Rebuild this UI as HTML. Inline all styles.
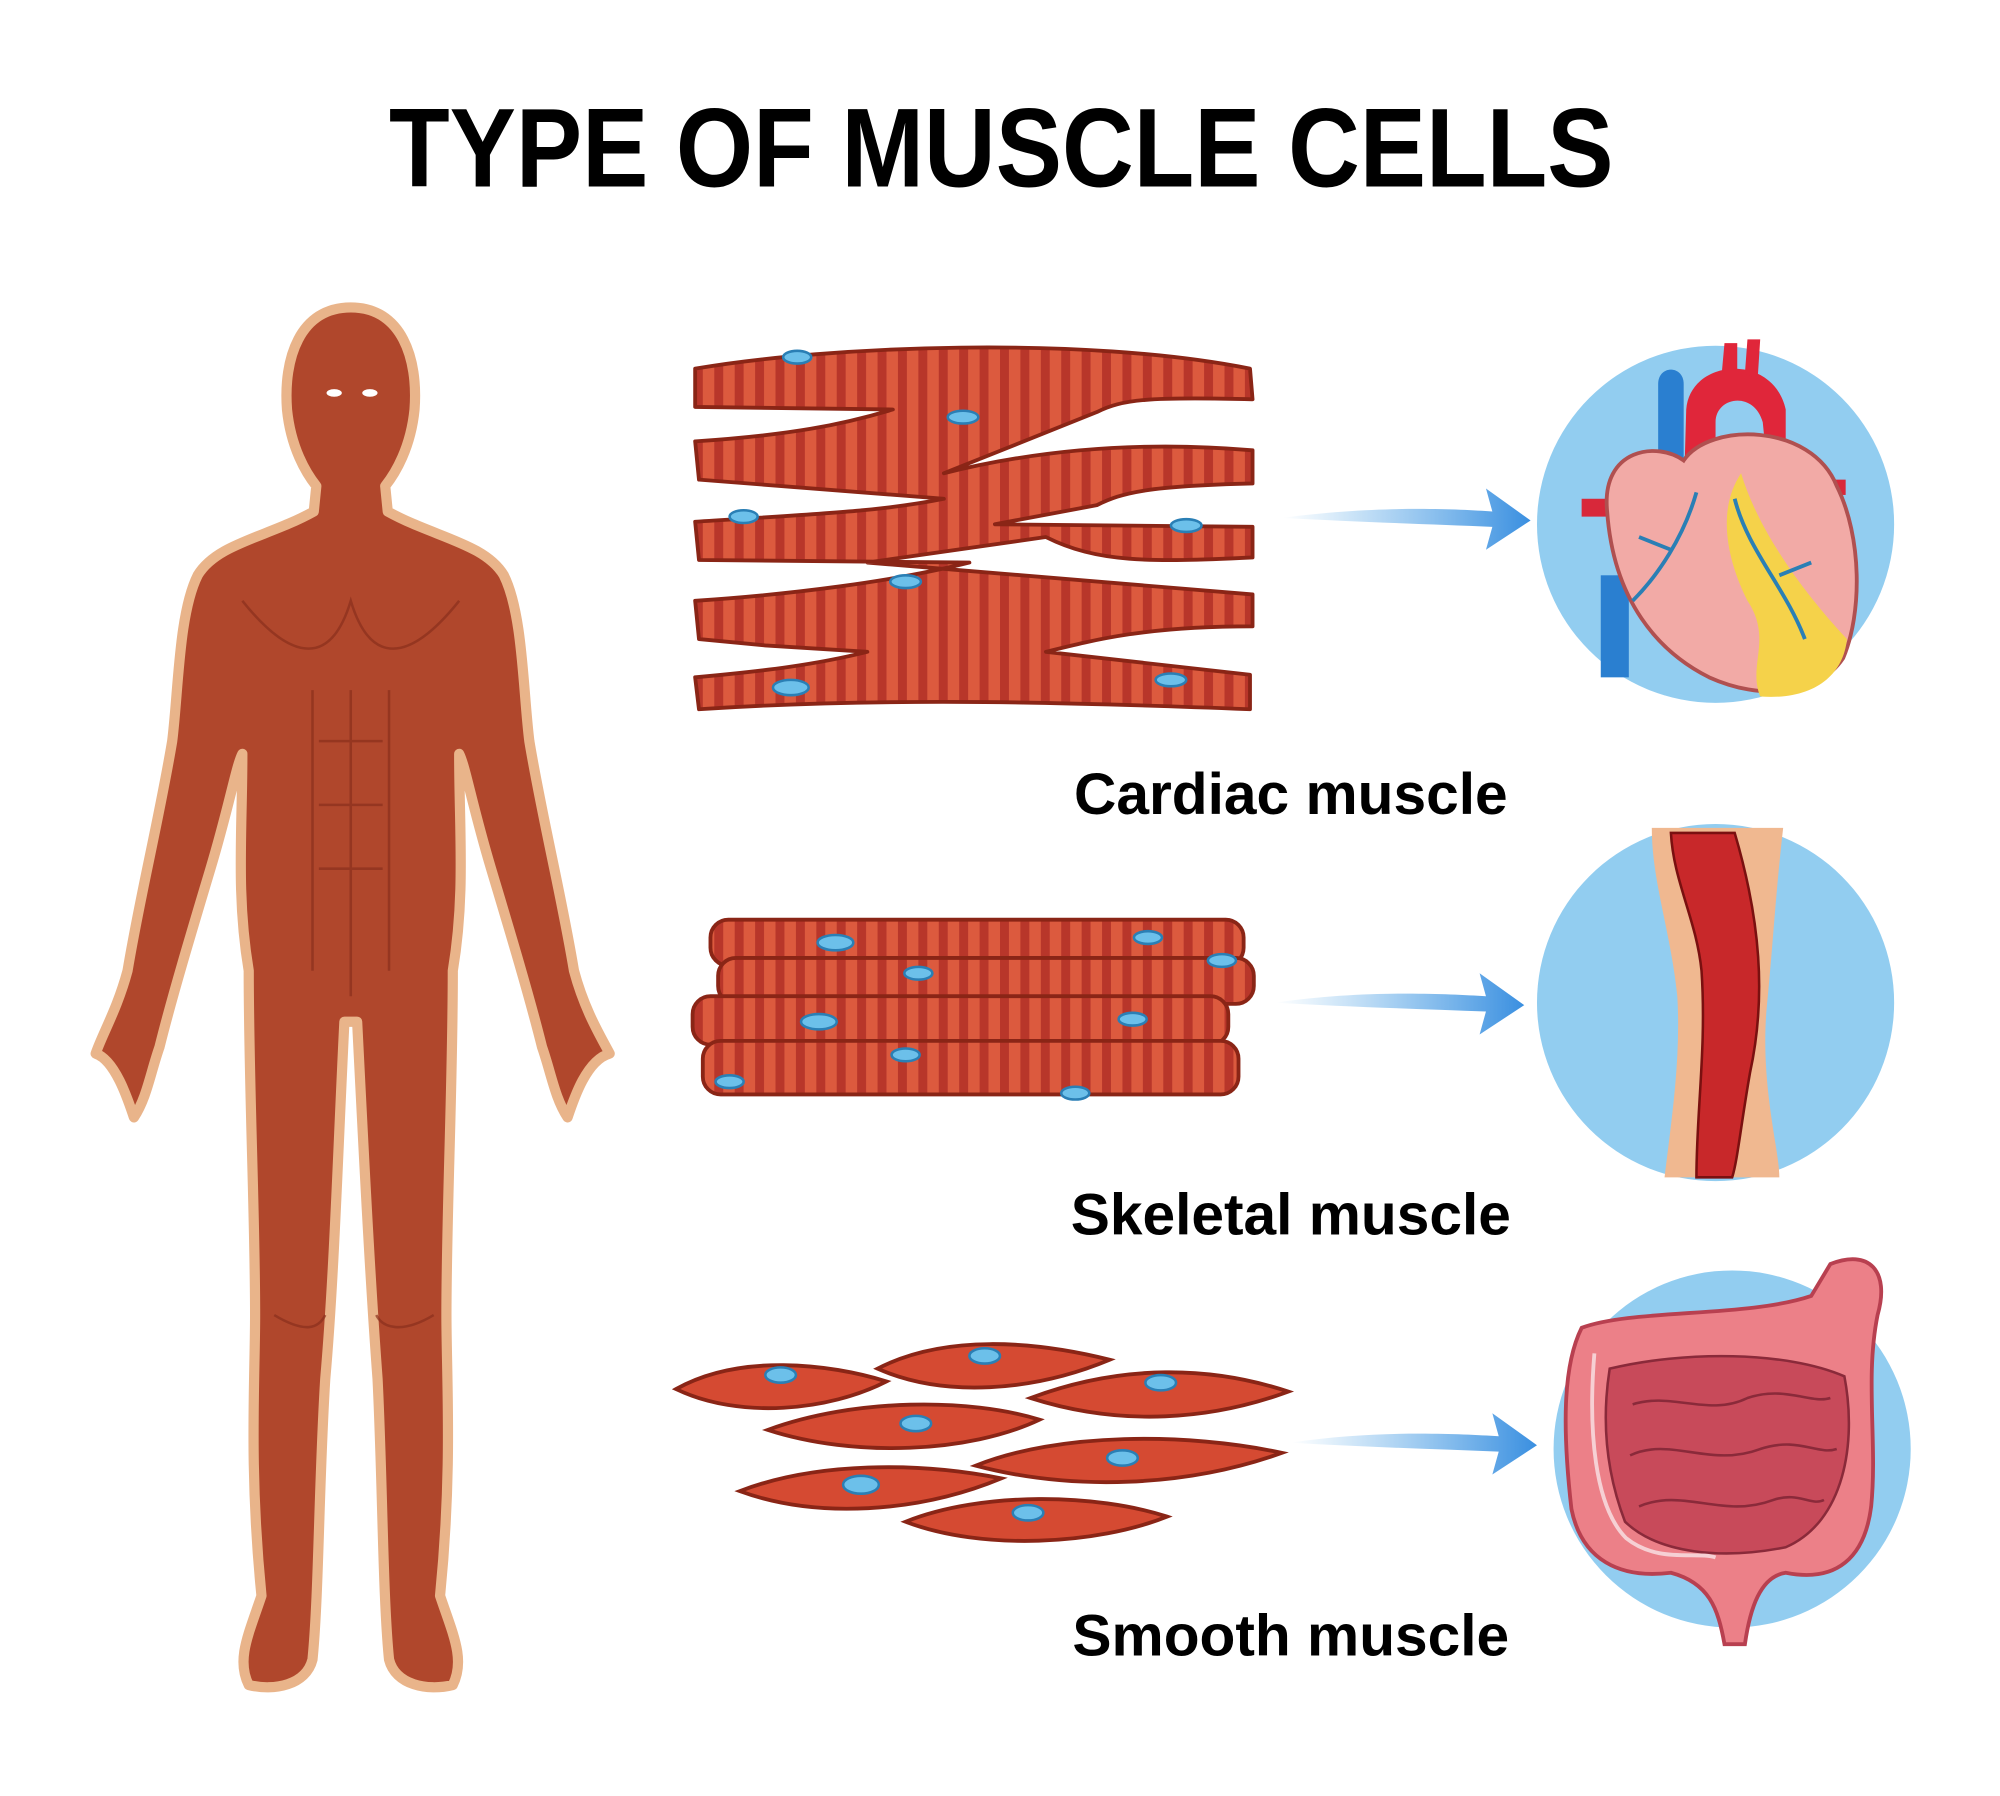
<!DOCTYPE html>
<html><head><meta charset="utf-8"><style>
html,body{margin:0;padding:0;background:#fff}
svg{display:block}
text{font-family:"Liberation Sans",sans-serif;font-weight:bold;fill:#000}
</style></head><body>
<svg width="2000" height="1796" viewBox="0 0 1568 1406" xmlns="http://www.w3.org/2000/svg">
<defs>
<linearGradient id="arr" x1="0" x2="1"><stop offset="0" stop-color="#4aa3e6" stop-opacity="0"/><stop offset="1" stop-color="#3a8fe0"/></linearGradient>
<pattern id="str" width="16" height="10" patternUnits="userSpaceOnUse"><rect width="16" height="10" fill="#dc5a3e"/><rect width="7" height="10" fill="#b8362a"/></pattern>
</defs>
<text x="785" y="145" font-size="88" text-anchor="middle" textLength="960" lengthAdjust="spacingAndGlyphs">TYPE OF MUSCLE CELLS</text>

<!-- Human body -->
<g stroke="#e9b48a" stroke-width="8" fill="#b0472c" stroke-linejoin="round">
<path d="M275 240 C235 240 222 280 225 320 C228 350 240 370 248 380 L246 400 C210 420 170 425 155 450 C140 480 140 540 135 580 C125 640 110 700 100 760 C92 790 80 810 75 825 C90 830 100 860 105 875 C115 860 118 840 125 820 C135 780 150 730 165 680 C180 630 185 600 190 590 C190 650 185 700 195 760 C195 850 200 950 200 1030 C200 1080 195 1150 205 1250 C195 1280 185 1300 195 1320 C215 1325 240 1320 245 1300 C250 1250 250 1160 255 1080 C262 1000 265 900 270 800 L280 800 C285 900 290 1000 296 1080 C300 1160 300 1250 305 1300 C310 1320 335 1325 355 1320 C365 1300 355 1280 345 1250 C355 1150 350 1080 350 1030 C350 950 355 850 355 760 C365 700 360 650 360 590 C365 600 370 630 385 680 C400 730 415 780 425 820 C432 840 435 860 445 875 C450 860 460 830 478 825 C470 810 458 790 450 760 C440 700 425 640 415 580 C410 540 410 480 395 450 C380 425 340 420 304 400 L302 380 C310 370 322 350 325 320 C328 280 315 240 275 240 Z"/>
</g>
<g fill="none" stroke="#8a2f1c" stroke-width="2" opacity="0.7">
<path d="M190 470 C230 520 260 520 275 470 C290 520 320 520 360 470"/>
<path d="M245 540 L245 760 M305 540 L305 760 M250 580 H300 M250 630 H300 M250 680 H300 M275 540 V780"/>
<path d="M215 1030 C240 1045 250 1040 255 1030 M295 1030 C300 1040 315 1045 340 1030"/>
</g>
<ellipse cx="262" cy="307" rx="6" ry="3" fill="#fff"/><ellipse cx="290" cy="307" rx="6" ry="3" fill="#fff"/>

<!-- Cardiac cells -->
<g stroke="#8a2516" stroke-width="3" fill="url(#str)" stroke-linejoin="round">
<path d="M545 288 C650 270 850 262 980 288 L982 312 C900 310 880 312 860 322 L740 370 C820 350 900 345 982 352 L982 378 C900 380 880 385 860 395 L780 410 L982 412 L982 436 C900 440 860 440 820 420 L680 440 L982 465 L982 490 C900 490 860 500 820 510 L980 528 L980 555 C850 550 700 545 548 555 L545 530 C600 525 640 520 680 510 L600 505 L548 500 L545 470 C620 465 700 455 760 440 L548 438 L545 408 C640 402 690 400 740 390 L548 375 L545 345 C620 340 660 332 700 320 L545 318 Z"/>
</g>
<g fill="#6cc0ea" stroke="#2a7fb5" stroke-width="2">
<ellipse cx="625" cy="279" rx="11" ry="5"/><ellipse cx="755" cy="326" rx="12" ry="5"/><ellipse cx="583" cy="404" rx="11" ry="5"/><ellipse cx="930" cy="411" rx="12" ry="5"/><ellipse cx="710" cy="455" rx="12" ry="5"/><ellipse cx="620" cy="538" rx="14" ry="6"/><ellipse cx="918" cy="532" rx="12" ry="5"/>
</g>
<path d="M1005 405 C1080 395 1140 398 1170 400 L1165 382 L1200 407 L1165 430 L1170 412 C1120 410 1060 408 1005 405 Z" fill="url(#arr)"/>
<circle cx="1345" cy="410" r="140" fill="#92cdf0"/>
<rect x="1240" y="390" width="30" height="14" fill="#d8283a"/>
<rect x="1425" y="375" width="22" height="12" fill="#d8283a"/>
<rect x="1255" y="450" width="22" height="80" fill="#2a7fd0"/>
<path d="M1300 380 L1300 300 C1300 285 1320 285 1320 300 L1320 380 Z" fill="#2a7fd0"/>
<path d="M1320 390 L1322 320 C1325 280 1390 275 1400 320 L1400 360 L1385 360 L1382 330 C1375 305 1345 310 1345 330 L1345 390 Z" fill="#e0263a"/>
<path d="M1350 290 L1352 268 L1362 268 L1362 292 Z M1368 292 L1370 265 L1380 265 L1378 296 Z" fill="#e0263a"/>
<path d="M1260 400 C1255 350 1300 345 1320 360 C1340 330 1420 330 1440 380 C1460 420 1460 480 1445 515 C1425 545 1380 548 1340 530 C1300 510 1265 470 1260 400 Z" fill="#f2aaa6" stroke="#b05050" stroke-width="3"/>
<path d="M1365 370 C1380 420 1420 470 1448 500 C1445 530 1420 548 1380 545 C1370 520 1390 500 1370 470 C1355 440 1345 400 1365 370 Z" fill="#f5d24a"/>
<g fill="none" stroke="#2a7fb5" stroke-width="3">
<path d="M1330 385 C1320 420 1300 450 1280 470 M1310 430 L1285 420 M1360 390 C1370 430 1400 460 1415 500 M1395 450 L1420 440"/>
</g>
<text x="1012" y="637" font-size="46" text-anchor="middle">Cardiac muscle</text>

<!-- Skeletal -->
<g stroke="#8a2516" stroke-width="3" fill="url(#str)">
<rect x="557" y="720" width="418" height="36" rx="14"/>
<rect x="563" y="750" width="420" height="36" rx="14"/>
<rect x="543" y="780" width="420" height="38" rx="14"/>
<rect x="551" y="815" width="420" height="42" rx="14"/>
</g>
<g fill="#6cc0ea" stroke="#2a7fb5" stroke-width="2">
<ellipse cx="655" cy="738" rx="14" ry="6"/><ellipse cx="900" cy="734" rx="11" ry="5"/><ellipse cx="958" cy="752" rx="11" ry="5"/><ellipse cx="720" cy="762" rx="11" ry="5"/><ellipse cx="642" cy="800" rx="14" ry="6"/><ellipse cx="888" cy="798" rx="11" ry="5"/><ellipse cx="710" cy="826" rx="11" ry="5"/><ellipse cx="572" cy="847" rx="11" ry="5"/><ellipse cx="843" cy="856" rx="11" ry="5"/>
</g>
<path d="M1000 785 C1070 775 1130 778 1165 780 L1160 762 L1195 787 L1160 810 L1165 792 C1110 790 1050 788 1000 785 Z" fill="url(#arr)"/>
<circle cx="1345" cy="785" r="140" fill="#92cdf0"/>
<path d="M1295 648 L1398 648 C1392 700 1390 740 1385 790 C1380 850 1395 900 1395 922 L1305 922 C1310 880 1318 830 1315 780 C1310 730 1295 690 1295 648 Z" fill="#f0b890"/>
<path d="M1310 652 L1360 652 C1380 720 1385 780 1372 840 C1365 880 1362 910 1358 922 L1330 922 C1330 870 1338 820 1334 760 C1330 720 1312 690 1310 652 Z" fill="#c8282a" stroke="#7a1010" stroke-width="2"/>
<text x="1012" y="967" font-size="46" text-anchor="middle">Skeletal muscle</text>

<!-- Smooth -->
<g fill="#d54a32" stroke="#8a2516" stroke-width="3">
<path d="M530 1088 C580 1060 650 1068 695 1082 C650 1105 580 1112 530 1088 Z"/>
<path d="M688 1072 C740 1045 810 1050 870 1065 C810 1090 740 1095 688 1072 Z"/>
<path d="M808 1095 C880 1068 950 1070 1010 1090 C950 1112 880 1118 808 1095 Z"/>
<path d="M602 1120 C670 1095 760 1095 815 1112 C760 1138 670 1142 602 1120 Z"/>
<path d="M765 1148 C830 1122 930 1122 1005 1138 C930 1165 840 1168 765 1148 Z"/>
<path d="M580 1168 C640 1145 720 1145 785 1158 C720 1185 640 1190 580 1168 Z"/>
<path d="M710 1192 C770 1168 860 1170 915 1188 C860 1210 770 1215 710 1192 Z"/>
</g>
<g fill="#6cc0ea" stroke="#2a7fb5" stroke-width="2">
<ellipse cx="612" cy="1077" rx="12" ry="6"/><ellipse cx="772" cy="1062" rx="12" ry="6"/><ellipse cx="910" cy="1083" rx="12" ry="6"/><ellipse cx="718" cy="1115" rx="12" ry="6"/><ellipse cx="880" cy="1142" rx="12" ry="6"/><ellipse cx="675" cy="1163" rx="14" ry="7"/><ellipse cx="806" cy="1185" rx="12" ry="6"/>
</g>
<path d="M1012 1130 C1080 1120 1140 1123 1175 1125 L1170 1107 L1205 1132 L1170 1155 L1175 1137 C1120 1135 1060 1133 1012 1130 Z" fill="url(#arr)"/>
<circle cx="1358" cy="1135" r="140" fill="#92cdf0"/>
<path d="M1240 1040 C1280 1025 1370 1032 1420 1015 L1435 990 C1465 978 1482 995 1472 1030 C1462 1080 1472 1130 1467 1180 C1462 1220 1440 1240 1400 1232 C1380 1235 1372 1260 1368 1288 L1352 1288 C1347 1260 1340 1240 1310 1232 C1270 1237 1240 1222 1232 1182 C1225 1120 1225 1070 1240 1040 Z" fill="#ec8088" stroke="#b84050" stroke-width="3"/>
<path d="M1262 1072 C1320 1058 1400 1058 1446 1078 C1456 1130 1446 1192 1400 1212 C1350 1222 1300 1217 1274 1192 C1258 1150 1256 1110 1262 1072 Z" fill="#c84a5a" stroke="#8a2a3a" stroke-width="2"/>
<g fill="none" stroke="#8a2a3a" stroke-width="2">
<path d="M1280 1100 C1310 1090 1340 1110 1370 1095 C1400 1085 1420 1100 1435 1095 M1278 1140 C1310 1125 1340 1150 1380 1135 C1410 1125 1425 1140 1440 1135 M1285 1180 C1320 1165 1350 1190 1390 1175 C1410 1168 1420 1180 1430 1175"/>
</g>
<path d="M1250 1060 C1245 1120 1250 1180 1275 1205 C1300 1225 1330 1215 1345 1220" fill="none" stroke="#f6d0d4" stroke-width="3"/>
<text x="1012" y="1297" font-size="46" text-anchor="middle">Smooth muscle</text>
</svg>
</body></html>
